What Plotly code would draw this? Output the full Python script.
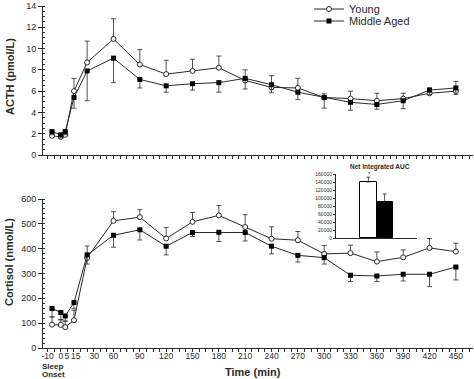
import numpy as np
import plotly.graph_objects as go

# ---------------- data ----------------
times = [-10, 0, 5, 15, 30, 60, 90, 120, 150, 180, 210, 240, 270, 300, 330, 360, 390, 420, 450]

acth_young = [1.8, 1.7, 1.9, 6.0, 8.7, 10.9, 8.5, 7.6, 7.9, 8.2, 7.0, 6.35, 6.3, 5.4, 5.3, 5.1, 5.3, 5.8, 6.0]
acth_young_err = [0.3, 0.2, 0.2, 1.2, 2.0, 1.9, 1.4, 1.3, 1.1, 1.1, 1.0, 1.1, 0.9, 0.35, 0.7, 0.7, 0.5, 0.5, 0.9]
acth_ma = [2.2, 1.9, 2.2, 5.4, 7.9, 9.1, 7.1, 6.5, 6.7, 6.8, 7.2, 6.6, 5.9, 5.4, 4.95, 4.75, 5.1, 6.1, 6.3]
acth_ma_err = [0.3, 0.3, 0.3, 1.0, 2.8, 2.3, 0.8, 0.6, 0.6, 0.9, 1.0, 0.75, 0.7, 1.0, 0.75, 0.45, 0.75, 0.4, 0.6]

cort_young = [94, 93, 84, 112, 363, 512, 527, 441, 508, 534, 487, 440, 434, 379, 382, 348, 365, 403, 388]
cort_young_err = [31, 22, 24, 40, 48, 37, 30, 44, 38, 40, 50, 48, 35, 34, 32, 39, 30, 38, 34]
cort_ma = [159, 143, 129, 183, 375, 454, 476, 410, 465, 466, 465, 410, 373, 364, 293, 290, 297, 297, 326]
cort_ma_err = [34, 30, 21, 25, 37, 48, 41, 35, 16, 37, 34, 31, 27, 26, 25, 22, 27, 50, 52]

auc_groups = ["Young", "Middle Aged"]
auc_values = [140000, 90000]
auc_err = [12000, 20000]

x_tick_labels = ["-10", "0", "5", "15", "30", "60", "90", "120", "150", "180", "210",
                 "240", "270", "300", "330", "360", "390", "420", "450"]
# label placement (labels spread out near the crowded start)
x_tick_label_pos = [-15, 0, 7, 17, 38, 60, 90, 120, 150, 180, 210,
                    240, 270, 300, 330, 360, 390, 420, 450]

# ---------------- layout helpers ----------------
W, H = 474, 379
def px(x):
    return x / W
def py(y):
    return 1 - y / H

INK = "#2a2a2a"
FONT = "Liberation Sans, Arial, sans-serif"
zeros = [0] * len(times)

fig = go.Figure()

line = dict(color=INK, width=1)
young_marker = dict(symbol="circle", size=5, color="white", line=dict(width=1, color=INK))
ma_marker = dict(symbol="square", size=5, color="black", line=dict(width=0))

def eb(plus, minus, w=2.5):
    return dict(type="data", symmetric=False, array=plus, arrayminus=minus,
                color=INK, thickness=0.8, width=w)

fig.add_trace(go.Scatter(
    x=times, y=acth_young, mode="lines+markers", name="Young", legend="legend",
    line=line, marker=young_marker, error_y=eb(acth_young_err, zeros),
    xaxis="x", yaxis="y"))
fig.add_trace(go.Scatter(
    x=times, y=acth_ma, mode="lines+markers", name="Middle Aged", legend="legend2",
    line=line, marker=ma_marker, error_y=eb(zeros, acth_ma_err),
    xaxis="x", yaxis="y"))

fig.add_trace(go.Scatter(
    x=times, y=cort_young, mode="lines+markers", name="Young", showlegend=False,
    line=line, marker=young_marker, error_y=eb(cort_young_err, zeros),
    xaxis="x2", yaxis="y2"))
fig.add_trace(go.Scatter(
    x=times, y=cort_ma, mode="lines+markers", name="Middle Aged", showlegend=False,
    line=line, marker=ma_marker, error_y=eb(zeros, cort_ma_err),
    xaxis="x2", yaxis="y2"))

fig.add_trace(go.Bar(
    x=auc_groups, y=auc_values, showlegend=False, width=1,
    marker=dict(color=["white", "black"], line=dict(color="black", width=1)),
    error_y=eb(auc_err, [0, 0], 2),
    xaxis="x3", yaxis="y3"))

xrange = [-20.3, 469.5]
xdom = [px(43), px(473)]
minor_x = dict(tickmode="array", tickvals=list(np.arange(-15, 470, 7.5)),
               ticks="outside", ticklen=3, tickcolor=INK, showgrid=False)

common_axis = dict(showline=True, linecolor=INK, linewidth=1, showgrid=False, zeroline=False,
                   automargin=False,
                   tickfont=dict(family=FONT, size=9, color=INK), tickcolor=INK)

leg = dict(xanchor="left", yanchor="middle", font=dict(family=FONT, size=11, color=INK),
           bgcolor="rgba(0,0,0,0)", borderwidth=0, itemwidth=30)

fig.update_layout(
    template="none",
    width=W, height=H,
    margin=dict(l=0, r=0, t=0, b=0, autoexpand=False),
    paper_bgcolor="white", plot_bgcolor="rgba(0,0,0,0)",
    font=dict(family=FONT, color=INK),
    showlegend=True,
    legend=dict(**leg, x=px(309), y=py(9)),
    legend2=dict(**leg, x=px(309), y=py(21)),
    xaxis=dict(**common_axis, domain=xdom, range=xrange, anchor="y",
               tickmode="array", tickvals=x_tick_label_pos, ticktext=[""] * len(x_tick_labels),
               ticks="", showticklabels=False, minor=minor_x),
    yaxis=dict(**common_axis, domain=[py(155), py(6)], range=[0, 14], anchor="x",
               tickmode="linear", tick0=0, dtick=2, ticks="outside", ticklen=4,
               minor=dict(dtick=0.5, ticks="inside", ticklen=2, tickcolor=INK, showgrid=False)),
    xaxis2=dict(showline=True, linecolor=INK, linewidth=1, showgrid=False, zeroline=False,
                automargin=False, tickcolor=INK,
                tickfont=dict(family=FONT, size=8.5, color=INK),
                domain=xdom, range=xrange, anchor="y2",
                tickmode="array", tickvals=x_tick_label_pos, ticktext=x_tick_labels,
                tickangle=0, ticks="", minor=minor_x),
    yaxis2=dict(**common_axis, domain=[py(348), py(199)], range=[0, 600], anchor="x2",
                tickmode="linear", tick0=0, dtick=100, ticks="outside", ticklen=4,
                minor=dict(dtick=20, ticks="inside", ticklen=2, tickcolor=INK, showgrid=False)),
    xaxis3=dict(showline=True, linecolor=INK, linewidth=1, showgrid=False, zeroline=False,
                automargin=False,
                domain=[px(336), px(417)], range=[-2, 3], anchor="y3",
                showticklabels=False, ticks="", type="category"),
    yaxis3=dict(showline=True, linecolor=INK, linewidth=1, showgrid=False, zeroline=False,
                automargin=False,
                domain=[py(238), py(174)], range=[0, 160000], anchor="x3",
                tickmode="linear", tick0=0, dtick=20000, ticks="outside", ticklen=2,
                tickcolor=INK, tickformat="d",
                tickfont=dict(family=FONT, size=5, color=INK)),
    bargap=0,
)

ann = dict(xref="paper", yref="paper", showarrow=False, yanchor="middle",
           font=dict(family=FONT, color=INK))
fig.add_annotation(**ann, x=px(10), y=py(77), xanchor="center",
                   text="<b>ACTH (pmol/L)</b>", textangle=-90, font_size=11)
fig.add_annotation(**ann, x=px(9), y=py(262), xanchor="center",
                   text="<b>Cortisol (nmol/L)</b>", textangle=-90, font_size=11)
fig.add_annotation(**ann, x=px(253), y=py(372), xanchor="center",
                   text="<b>Time (min)</b>", font_size=11)
fig.add_annotation(**ann, x=px(40), y=py(366), xanchor="left", text="<b>Sleep</b>", font_size=8)
fig.add_annotation(**ann, x=px(40), y=py(374.5), xanchor="left", text="<b>Onset</b>", font_size=8)
fig.add_annotation(**ann, x=px(380), y=py(167), xanchor="center",
                   text="<b>Net Integrated AUC</b>", font_size=6.5)
fig.add_annotation(**ann, x=px(369), y=py(174), xanchor="center", text="*", font_size=6)

fig.write_html("out.html", config={"displayModeBar": False},
               post_script="document.body.style.margin='0';document.body.style.overflow='hidden';")
